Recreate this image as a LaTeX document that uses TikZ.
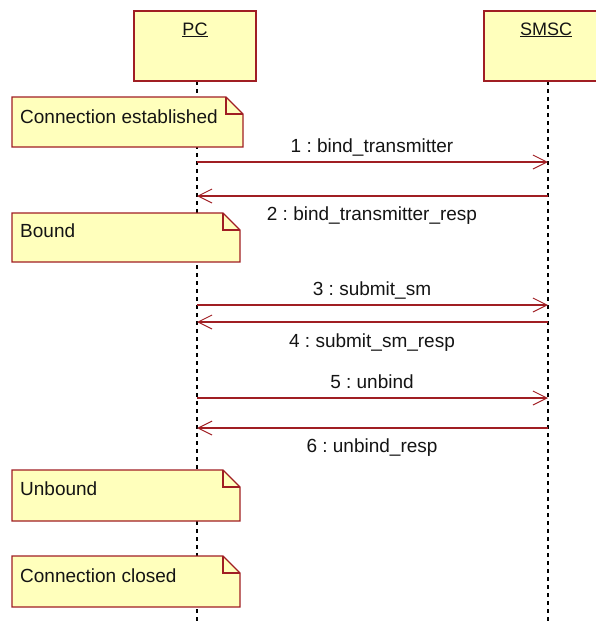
\documentclass[tikz,border=0pt]{standalone}
\usepackage{fontspec}
\setmainfont{Liberation Sans}
\usetikzlibrary{arrows.meta}
\frenchspacing
\definecolor{notefill}{RGB}{255,255,188}
\definecolor{umlred}{RGB}{160,30,35}
\definecolor{txt}{RGB}{20,20,20}
\tikzset{
  headbox/.style={draw=umlred, line width=1.4pt, fill=notefill},
  notebox/.style={draw=umlred, line width=1.4pt, fill=notefill},
  lifeline/.style={draw=black, line width=1.3pt, dash pattern=on 4pt off 4pt},
  msg/.style={draw=umlred, line width=1.2pt,
    -{Straight Barb[length=14pt,width=14pt,line width=1pt]}},
  msglabel/.style={text=txt, font=\fontsize{19}{22}\selectfont, anchor=base, inner sep=0pt},
  notetext/.style={text=txt, font=\fontsize{19}{22}\selectfont, anchor=base west, inner sep=0pt},
  headtext/.style={text=txt, font=\fontsize{18}{21}\selectfont, anchor=base, inner sep=0pt},
}
\newcommand{\umlnote}[5]{% name, left, top, right, bottom
  \path[notebox] (#2,#3) -- (#4-17,#3) -- (#4,#3+17) -- (#4,#5) -- (#2,#5) -- cycle;
  \draw[umlred, line width=1.4pt] (#4-17,#3) -- (#4-17,#3+17) -- (#4,#3+17);
  \coordinate (#1) at (#2,#3);
}
\begin{document}
\begin{tikzpicture}[x=1pt,y=-1pt]
\useasboundingbox (0,0) rectangle (596,622);

% lifelines
\coordinate (pctop) at (197,81);
\coordinate (pcbot) at (197,622);
\coordinate (smtop) at (548,81);
\coordinate (smbot) at (548,622);
\draw[lifeline] (pctop) -- (pcbot);
\draw[lifeline] (smtop) -- (smbot);

% object heads
\path[headbox] (134,11) rectangle (256,81);
\node[headtext] (pc) at (195,35) {\underline{PC}};
\path[headbox] (484,11) rectangle (597,81);
\node[headtext] (smsc) at (546,35) {\underline{SMSC}};

% notes
\umlnote{n1}{12}{97}{243}{147}
\node[notetext] (t1) at (20,123) {Connection established};
\umlnote{n2}{12}{213}{240}{262}
\node[notetext] (t2) at (20,237) {Bound};
\umlnote{n3}{12}{470}{240}{521}
\node[notetext] (t3) at (20,495) {Unbound};
\umlnote{n4}{12}{556}{240}{607}
\node[notetext] (t4) at (20,582) {Connection closed};

% message anchors on the lifelines
\foreach \i/\y in {1/162,2/196,3/305,4/322,5/398,6/428}{
  \coordinate (pc\i) at (197,\y);
  \coordinate (sm\i) at (548,\y);
}

% messages
\draw[msg] (pc1) -- (sm1);
\draw[msg] (sm2) -- (pc2);
\draw[msg] (pc3) -- (sm3);
\draw[msg] (sm4) -- (pc4);
\draw[msg] (pc5) -- (sm5);
\draw[msg] (sm6) -- (pc6);

% message labels
\node[msglabel] (l1) at (372,152) {1 : bind\_transmitter};
\node[msglabel] (l2) at (372,220) {2 : bind\_transmitter\_resp};
\node[msglabel] (l3) at (372,295) {3 : submit\_sm};
\node[msglabel] (l4) at (372,347) {4 : submit\_sm\_resp};
\node[msglabel] (l5) at (372,388) {5 : unbind};
\node[msglabel] (l6) at (372,452) {6 : unbind\_resp};
\end{tikzpicture}
\end{document}
